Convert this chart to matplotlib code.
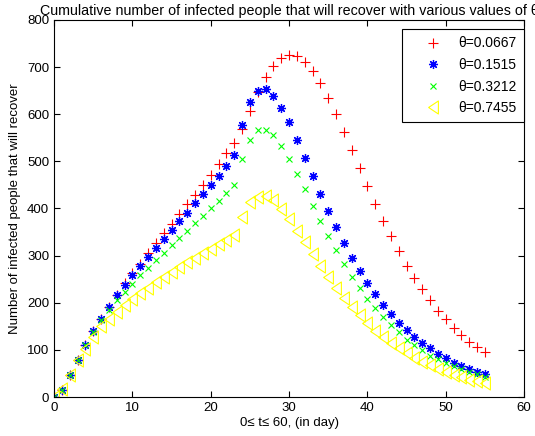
import numpy as np
import matplotlib.pyplot as plt

plt.rcParams["font.family"] = ["Liberation Sans", "DejaVu Sans"]

t = np.arange(0, 56)

red = [0, 14, 47, 78, 111, 140, 166, 192, 217, 242, 263, 283, 305, 326, 347,
       368, 389, 409, 429, 450, 472, 494, 517, 540, 569, 607, 647, 678, 702, 720,
       726, 724, 711, 691, 666, 635, 601, 563, 524, 486, 448, 410, 374, 342, 309,
       279, 252, 229, 205, 183, 165, 147, 132, 117, 106, 95]
blue = [0, 14, 47, 78, 111, 140, 166, 191, 216, 238, 258, 278, 298, 317, 336,
        355, 373, 391, 412, 430, 450, 470, 491, 513, 578, 627, 650, 653, 639, 614,
        583, 546, 508, 468, 431, 394, 360, 327, 296, 268, 242, 218, 196, 176, 158,
        142, 127, 115, 103, 92, 83, 73, 66, 59, 54, 48]
green = [0, 14, 47, 78, 110, 138, 163, 185, 206, 222, 240, 258, 274, 291, 306,
         322, 338, 353, 369, 384, 400, 416, 432, 450, 506, 546, 567, 567, 555, 533,
         504, 473, 441, 406, 373, 341, 312, 283, 255, 232, 209, 188, 169, 153, 137,
         122, 110, 99, 88, 81, 72, 65, 59, 53, 48, 43]
yellow = [0, 16, 47, 78, 101, 128, 150, 165, 181, 195, 209, 220, 232, 244, 255,
          265, 276, 286, 296, 305, 315, 324, 333, 344, 382, 414, 425, 426, 418, 398,
          378, 353, 329, 304, 278, 255, 232, 210, 191, 173, 156, 140, 127, 115, 103,
          94, 83, 74, 67, 60, 53, 47, 42, 37, 34, 30]
labels = ["θ=0.0667", "θ=0.1515", "θ=0.3212", "θ=0.7455"]

# narrow left-pointing triangle, like matlab's '<'
tri = [(-0.75, 0), (0.75, 1), (0.75, -1), (-0.75, 0)]

fig = plt.figure(figsize=(5.35, 4.36), dpi=100)
ax = fig.add_axes([54 / 535, 1 - 397 / 436, 470 / 535, 377 / 436])

ax.plot(t, red, ls="", marker="+", color="r", ms=7, mew=0.8, label=labels[0])
ax.plot(t, blue, ls="", marker=(8, 2, 0), color="b", ms=6.5, mew=0.9, label=labels[1])
ax.plot(t, green, ls="", marker="x", color=(0, 1, 0), ms=5, mew=0.8, label=labels[2])
ax.plot(t, yellow, ls="", marker=tri, color=(1, 1, 0), mfc="none", ms=9.4, mew=0.8,
        label=labels[3])

ax.set_xlim(0, 60)
ax.set_ylim(0, 800)
ax.set_xticks(np.arange(0, 61, 10))
ax.set_yticks(np.arange(0, 801, 100))
ax.tick_params(direction="in", top=True, right=True, labelsize=9.5, length=4)
for s in ax.spines.values():
    s.set_linewidth(0.8)

ax.set_xlabel("0≤ t≤ 60, (in day)", fontsize=9.5, labelpad=2)
ax.set_ylabel("Number of infected people that will recover", fontsize=9.5, labelpad=4)
# title runs past the right edge in the original too
fig.text(40 / 535, 1 - 11 / 436,
         "Cumulative number of infected people that will recover with various values of θ",
         fontsize=10.3, ha="left", va="center")

leg = ax.legend(loc="upper right", bbox_to_anchor=(1.0, 0.975), fontsize=10,
                fancybox=False, edgecolor="k", framealpha=1, borderaxespad=0,
                borderpad=0.5, handletextpad=0.15, handlelength=3.4, labelspacing=0.55)
leg.get_frame().set_linewidth(0.8)

fig.savefig("out.png", dpi=100)
